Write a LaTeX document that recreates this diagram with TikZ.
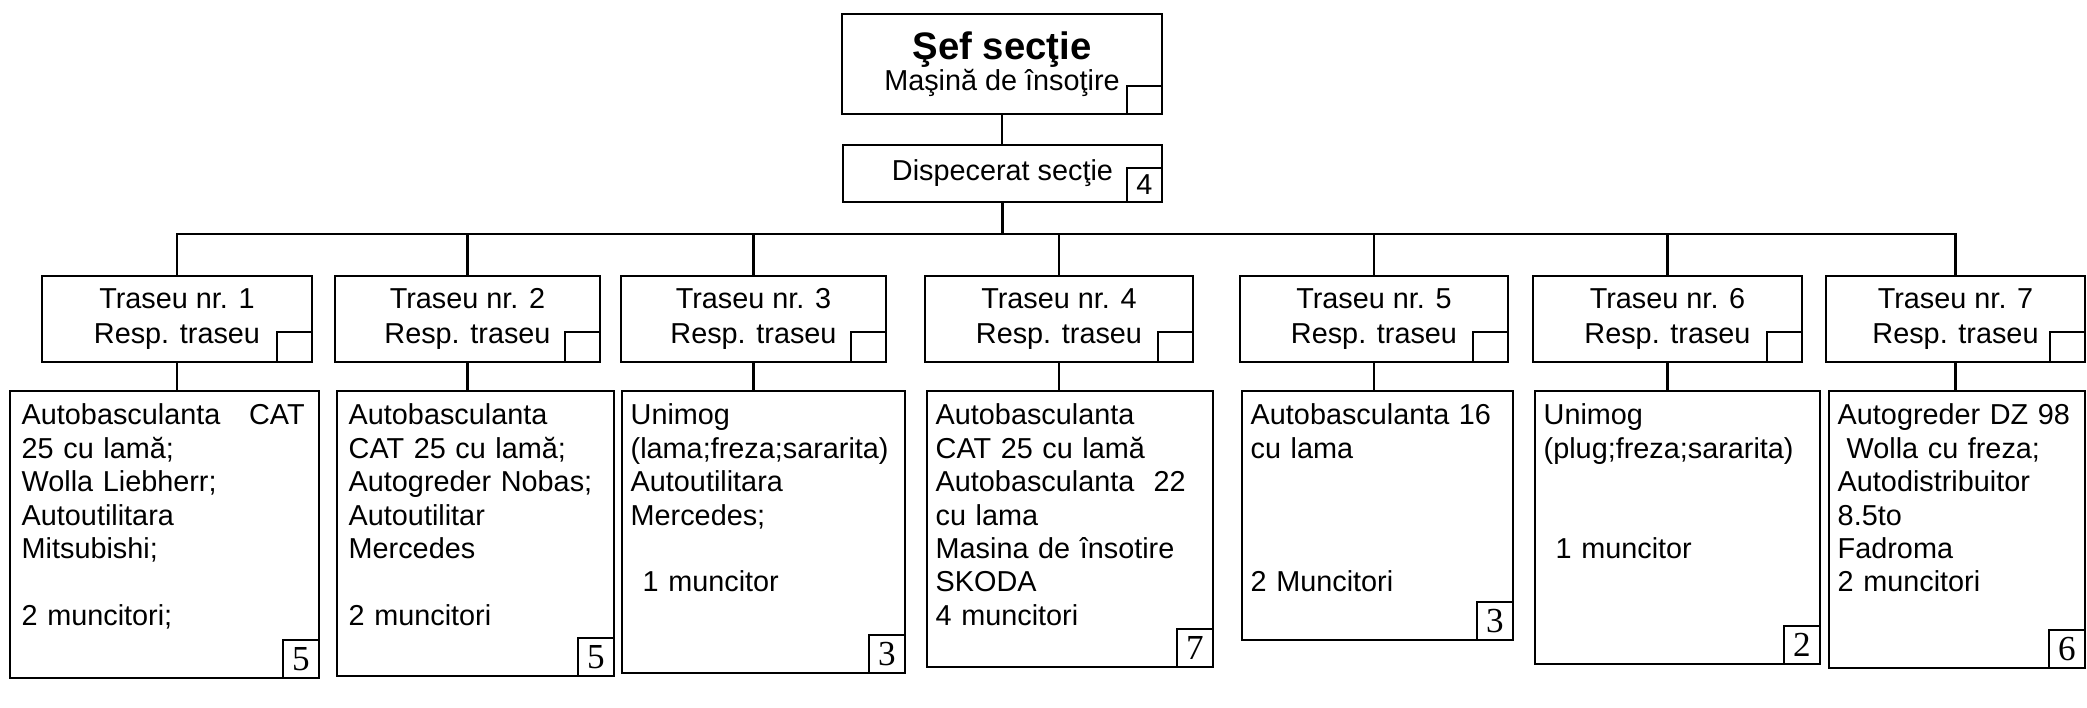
\documentclass[tikz,border=0pt]{standalone}
\usepackage{fontspec}
\setmainfont{Liberation Sans}
\newfontfamily\nrfont{Liberation Serif}

\begin{document}
\begin{tikzpicture}[
		box/.style={draw, line width=0.8pt, inner sep=0pt, outer sep=0pt, align=center, font=\fontsize{8.2}{10}\selectfont},
		corner/.style={draw, line width=0.8pt, inner sep=0pt, outer sep=0pt, minimum width=0.35cm, minimum height=0.30cm, anchor=south east},
		nrbox/.style={draw, line width=0.8pt, inner sep=0pt, outer sep=0pt, minimum width=0.36cm, minimum height=0.38cm, anchor=south east, font=\nrfont\fontsize{10}{10}\selectfont},
		list/.style={draw, line width=0.8pt, inner sep=0pt, outer sep=0pt, anchor=north west},
		listtext/.style={anchor=base west, inner sep=0pt, text width=#1, align=left, font=\fontsize{8.2}{9.5}\selectfont},
		link/.style={line width=0.7pt}
	]
		\useasboundingbox (0,0) rectangle (20.87,7.08);
		
		% Sef sectie
		\node[box, minimum width=3.20cm, minimum height=1.00cm] (boss) at (10.02,6.44) {{\bfseries\fontsize{10.9}{12}\selectfont Şef secţie}\\[-1.2pt]Maşină de însoţire};
		\node[corner, minimum height=0.28cm] (bosssq) at (boss.south east) {};
		
		% Dispecerat
		\node[box, minimum width=3.19cm, minimum height=0.57cm] (disp) at (10.025,5.345) {Dispecerat secţie};
		\node[corner, minimum height=0.34cm, font=\fontsize{8.2}{10}\selectfont] (dispnr) at (disp.south east) {4};
		
		% Trasee
		\node[box, minimum width=2.70cm, minimum height=0.86cm] (t1) at (1.77,3.89) {Traseu nr. 1\\Resp. traseu};
		\node[box, minimum width=2.65cm, minimum height=0.86cm] (t2) at (4.675,3.89) {Traseu nr. 2\\Resp. traseu};
		\node[box, minimum width=2.65cm, minimum height=0.86cm] (t3) at (7.535,3.89) {Traseu nr. 3\\Resp. traseu};
		\node[box, minimum width=2.68cm, minimum height=0.86cm] (t4) at (10.59,3.89) {Traseu nr. 4\\Resp. traseu};
		\node[box, minimum width=2.68cm, minimum height=0.86cm] (t5) at (13.74,3.89) {Traseu nr. 5\\Resp. traseu};
		\node[box, minimum width=2.69cm, minimum height=0.86cm] (t6) at (16.675,3.89) {Traseu nr. 6\\Resp. traseu};
		\node[box, minimum width=2.59cm, minimum height=0.86cm] (t7) at (19.555,3.89) {Traseu nr. 7\\Resp. traseu};
		\node[corner] (t1sq) at (t1.south east) {};
		\node[corner] (t2sq) at (t2.south east) {};
		\node[corner] (t3sq) at (t3.south east) {};
		\node[corner] (t4sq) at (t4.south east) {};
		\node[corner] (t5sq) at (t5.south east) {};
		\node[corner] (t6sq) at (t6.south east) {};
		\node[corner] (t7sq) at (t7.south east) {};
		
		% Utilaje traseu 1
		\node[list, minimum width=3.09cm, minimum height=2.87cm] (c1) at (0.10,3.17) {};
		\node[listtext=2.83cm] (c1txt) at ([shift={(0.11,-0.34)}]c1.north west) {Autobasculanta\hfill CAT\\25 cu lamă;\\Wolla Liebherr;\\Autoutilitara\\Mitsubishi;\\[9.5pt]2 muncitori;};
		\node[nrbox] (c1nr) at (c1.south east) {5};
		
		% Utilaje traseu 2
		\node[list, minimum width=2.77cm, minimum height=2.85cm] (c2) at (3.37,3.17) {};
		\node[listtext=2.60cm] (c2txt) at ([shift={(0.11,-0.34)}]c2.north west) {Autobasculanta\\CAT 25 cu lamă;\\Autogreder Nobas;\\Autoutilitar\\Mercedes\\[9.5pt]2 muncitori};
		\node[nrbox] (c2nr) at (c2.south east) {5};
		
		% Utilaje traseu 3
		\node[list, minimum width=2.83cm, minimum height=2.82cm] (c3) at (6.22,3.17) {};
		\node[listtext=2.70cm] (c3txt) at ([shift={(0.08,-0.34)}]c3.north west) {Unimog\\(lama;freza;sararita)\\Autoutilitara\\Mercedes;\\[9.5pt]\hspace*{0.12cm}1 muncitor};
		\node[nrbox] (c3nr) at (c3.south east) {3};
		
		% Utilaje traseu 4
		\node[list, minimum width=2.86cm, minimum height=2.76cm] (c4) at (9.27,3.17) {};
		\node[listtext=2.70cm] (c4txt) at ([shift={(0.08,-0.34)}]c4.north west) {Autobasculanta\\CAT 25 cu lamă\\Autobasculanta\ \ 22\\cu lama\\Masina de însotire\\SKODA\\4 muncitori};
		\node[nrbox] (c4nr) at (c4.south east) {7};
		
		% Utilaje traseu 5
		\node[list, minimum width=2.71cm, minimum height=2.49cm] (c5) at (12.42,3.17) {};
		\node[listtext=2.55cm] (c5txt) at ([shift={(0.08,-0.34)}]c5.north west) {Autobasculanta 16\\cu lama\\[28.5pt]2 Muncitori};
		\node[nrbox] (c5nr) at (c5.south east) {3};
		
		% Utilaje traseu 6
		\node[list, minimum width=2.85cm, minimum height=2.73cm] (c6) at (15.35,3.17) {};
		\node[listtext=2.70cm] (c6txt) at ([shift={(0.08,-0.34)}]c6.north west) {Unimog\\(plug;freza;sararita)\\[19pt]\hspace*{0.12cm}1 muncitor};
		\node[nrbox] (c6nr) at (c6.south east) {2};
		
		% Utilaje traseu 7
		\node[list, minimum width=2.56cm, minimum height=2.77cm] (c7) at (18.29,3.17) {};
		\node[listtext=2.40cm] (c7txt) at ([shift={(0.08,-0.34)}]c7.north west) {Autogreder DZ 98\\\hspace*{0.09cm}Wolla cu freza;\\Autodistribuitor\\8.5to\\Fadroma\\2 muncitori};
		\node[nrbox] (c7nr) at (c7.south east) {6};
		
		% Legaturi sef - dispecerat - trasee
		\coordinate (bus) at (10,4.74);
		\draw[link] (boss.south) -- (boss.south |- disp.north);
		\draw[link] (disp.south) -- (disp.south |- bus);
		\draw[link] (t1.north) -- (t1.north |- bus) -- (t7.north |- bus) -- (t7.north);
		\draw[link] (t2.north) -- (t2.north |- bus);
		\draw[link] (t3.north) -- (t3.north |- bus);
		\draw[link] (t4.north) -- (t4.north |- bus);
		\draw[link] (t5.north) -- (t5.north |- bus);
		\draw[link] (t6.north) -- (t6.north |- bus);
		
		% Legaturi trasee - utilaje
		\draw[link] (t1.south) -- (t1.south |- c1.north);
		\draw[link] (t2.south) -- (t2.south |- c2.north);
		\draw[link] (t3.south) -- (t3.south |- c3.north);
		\draw[link] (t4.south) -- (t4.south |- c4.north);
		\draw[link] (t5.south) -- (t5.south |- c5.north);
		\draw[link] (t6.south) -- (t6.south |- c6.north);
		\draw[link] (t7.south) -- (t7.south |- c7.north);
	\end{tikzpicture}
\end{document}
